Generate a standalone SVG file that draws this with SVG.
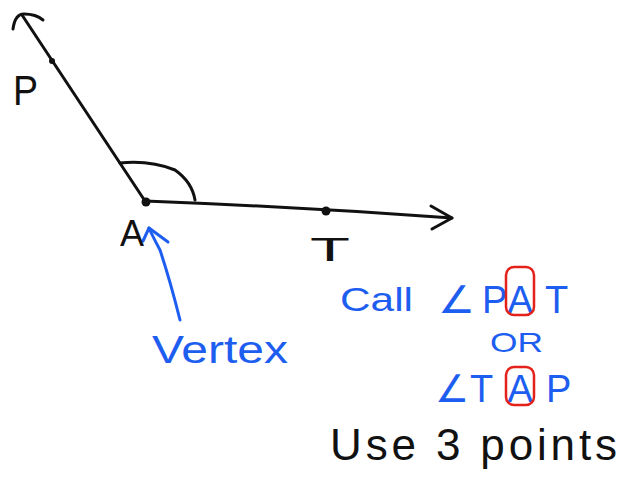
<svg xmlns="http://www.w3.org/2000/svg" width="622" height="481" viewBox="0 0 622 481">
<style>
.ink{fill:none;stroke:#111;stroke-width:3;stroke-linecap:round;stroke-linejoin:round}
.blue{fill:none;stroke:#1d5ef0;stroke-width:3;stroke-linecap:round;stroke-linejoin:round}
.red{fill:none;stroke:#e3231b;stroke-width:2.5}
.bt{font-family:"Liberation Sans","DejaVu Sans",sans-serif;fill:#1d5ef0}
.kt{font-family:"Liberation Sans","DejaVu Sans",sans-serif;fill:#111}
</style>
<rect width="622" height="481" fill="#fff"/>
<g id="connectors">
<path class="ink" d="M145 201 L22 15"/>
<path class="ink" d="M13 29 Q15 14 24 14 Q36 14 43 20"/>
<path class="ink" d="M145 201 Q300 207 452 218"/>
<path class="ink" d="M431 206 L452 218 L432 229"/>
<path class="ink" d="M120 163 Q150 160 175 170 Q192 182 195 200"/>
<path class="blue" d="M180 320 Q170 280 160 250 Q152 235 149 228"/>
<path class="blue" d="M143 241 L149 228 L168 242"/>
</g>
<g id="P">
<circle cx="52" cy="61" r="3" fill="#111"/>
<text class="kt" x="13" y="105" font-size="42" textLength="25" lengthAdjust="spacingAndGlyphs">P</text>
</g>
<g id="A">
<circle cx="146" cy="202" r="4.5" fill="#111"/>
<text class="kt" x="120" y="246" font-size="36" textLength="24" lengthAdjust="spacingAndGlyphs">A</text>
</g>
<g id="T">
<circle cx="326" cy="211" r="4.5" fill="#111"/>
<text class="kt" x="310" y="261" font-size="34" textLength="40" lengthAdjust="spacingAndGlyphs">T</text>
</g>
<g id="vertex-label">
<text class="bt" x="152" y="363" font-size="38" textLength="136" lengthAdjust="spacingAndGlyphs">Vertex</text>
</g>
<g id="naming">
<text class="bt" x="340" y="311" font-size="34" textLength="73" lengthAdjust="spacingAndGlyphs">Call</text>
<text class="bt" font-size="38" y="313"><tspan x="438" textLength="37" lengthAdjust="spacingAndGlyphs">∠</tspan><tspan x="482">P</tspan><tspan x="507.5">A</tspan><tspan x="545">T</tspan></text>
<rect class="red" x="506" y="267" width="28" height="48" rx="8"/>
<text class="bt" x="490" y="352" font-size="28" textLength="53" lengthAdjust="spacingAndGlyphs">OR</text>
<text class="bt" font-size="38" y="402"><tspan x="435">∠</tspan><tspan x="470">T</tspan><tspan x="507.5">A</tspan><tspan x="546">P</tspan></text>
<rect class="red" x="506" y="367" width="28" height="38" rx="8"/>
<text class="kt" x="330" y="460" font-size="44" textLength="287" lengthAdjust="spacing">Use 3 points</text>
</g>
</svg>
